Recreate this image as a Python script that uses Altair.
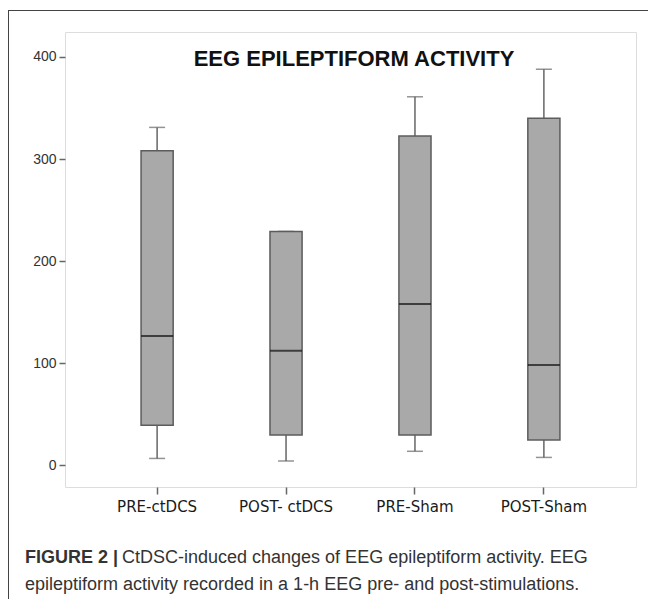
import altair as alt
import pandas as pd

groups = ["PRE-ctDCS", "POST- ctDCS", "PRE-Sham", "POST-Sham"]
lower = [6.5, 4.0, 13.5, 7.5]
q1 = [39.0, 29.5, 29.5, 24.5]
median = [126.5, 112.0, 158.0, 98.0]
q3 = [308.0, 229.0, 322.5, 340.0]
upper = [331.0, 229.0, 361.0, 388.0]
y_ticks = [0, 100, 200, 300, 400]
y_domain = [-21.5, 424.5]

title_text = "EEG EPILEPTIFORM ACTIVITY"
caption_bold = "FIGURE 2 |"
caption_line1 = "CtDSC-induced changes of EEG epileptiform activity. EEG"
caption_line2 = "epileptiform activity recorded in a 1-h EEG pre- and post-stimulations."

df = pd.DataFrame({"group": groups, "lower": lower, "q1": q1, "median": median,
                   "q3": q3, "upper": upper})

W, H = 571, 455
xscale = alt.Scale(domain=groups, paddingInner=0.751, paddingOuter=0.59)
yscale = alt.Scale(domain=y_domain, nice=False, zero=False)

x_enc = alt.X("group:N", scale=xscale, sort=groups,
              axis=alt.Axis(title=None, labelAngle=0, tickSize=7, tickColor="#666",
                            tickWidth=1.5, domain=False, labelFont="DejaVu Sans",
                            labelFontSize=15, labelColor="#1a1a1a", labelPadding=5))
y_axis = alt.Axis(values=y_ticks, title=None, grid=False, domain=False, tickSize=6,
                  tickColor="#666", tickWidth=1.5, labelFont="Liberation Sans",
                  labelFontSize=14, labelColor="#333", labelPadding=3)

base = alt.Chart(df)

whisk = base.mark_rule(color="#666", strokeWidth=1.5).encode(
    x=x_enc,
    y=alt.Y("lower:Q", scale=yscale, axis=y_axis),
    y2="upper:Q",
)
cap_lo = base.mark_tick(color="#666", size=16, thickness=1.5, orient="horizontal").encode(
    x=x_enc, y=alt.Y("lower:Q", scale=yscale))
cap_hi = base.mark_tick(color="#666", size=16, thickness=1.5, orient="horizontal").encode(
    x=x_enc, y=alt.Y("upper:Q", scale=yscale))
box = base.mark_bar(fill="#a9a9a9", stroke="#5c5c5c", strokeWidth=1.5).encode(
    x=x_enc, y=alt.Y("q1:Q", scale=yscale), y2="q3:Q")
med = base.mark_tick(color="#111", size=32, thickness=2, orient="horizontal").encode(
    x=x_enc, y=alt.Y("median:Q", scale=yscale))

title = alt.Chart(pd.DataFrame({"t": [title_text]})).mark_text(
    font="Liberation Sans", fontWeight="bold", fontSize=22, color="#111",
    align="center", baseline="alphabetic").encode(
    text="t:N", x=alt.value(289), y=alt.value(34))

cap_b = alt.Chart(pd.DataFrame({"t": [caption_bold]})).mark_text(
    font="Liberation Sans", fontWeight="bold", fontSize=18, color="#333",
    align="left", baseline="alphabetic").encode(
    text="t:N", x=alt.value(25 - 65), y=alt.value(563 - 32))
cap_1 = alt.Chart(pd.DataFrame({"t": [caption_line1]})).mark_text(
    font="Liberation Sans", fontSize=18, color="#333",
    align="left", baseline="alphabetic").encode(
    text="t:N", x=alt.value(122 - 65), y=alt.value(563 - 32))
cap_2 = alt.Chart(pd.DataFrame({"t": [caption_line2]})).mark_text(
    font="Liberation Sans", fontSize=18, color="#333",
    align="left", baseline="alphabetic").encode(
    text="t:N", x=alt.value(25 - 65), y=alt.value(590 - 32))

frame_top = alt.Chart(pd.DataFrame({"a": [0]})).mark_rule(color="#444", strokeWidth=1).encode(
    x=alt.value(-57), x2=alt.value(700), y=alt.value(-21.5))
frame_left = alt.Chart(pd.DataFrame({"a": [0]})).mark_rule(color="#444", strokeWidth=1).encode(
    x=alt.value(-56.5), y=alt.value(-22), y2=alt.value(700))

chart = alt.layer(whisk, cap_lo, cap_hi, box, med, title, cap_b, cap_1, cap_2,
                  frame_top, frame_left).properties(
    width=W, height=H,
    autosize=alt.AutoSizeParams(type="none"),
    padding={"left": 57, "top": 24, "right": 12, "bottom": 112},
).configure_view(stroke="#6e6e6e", strokeWidth=1.5).configure(background="white")

chart.save("out.html", embed_options={"renderer": "svg", "actions": False})
